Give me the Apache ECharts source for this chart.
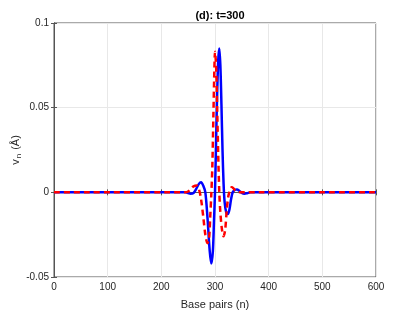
<!DOCTYPE html>
<html>
<head>
<meta charset="utf-8">
<script src="https://cdn.jsdelivr.net/npm/echarts@6/dist/echarts.min.js"></script>
<style>
  html, body { margin: 0; padding: 0; background: #fff; }
  #chart { width: 415px; height: 312px; }
</style>
</head>
<body>
<div id="chart"></div>
<script>
// values (x = base pair n, y = v_n in Å)
const blueX = [0, 230, 245, 250, 254, 260, 265, 270, 274, 278, 282, 286, 290, 293, 296, 298, 300, 302, 304, 306, 308, 310, 312, 314, 316, 318, 321, 324, 327, 330, 333, 337, 341, 345, 350, 355, 360, 366, 600];
const blueY = [0, 0, 0, -0.0004, -0.0008, -0.0004, 0.002, 0.005, 0.006, 0.004, 0, -0.015, -0.034, -0.042, -0.035, -0.018, 0, 0.03, 0.058, 0.078, 0.085, 0.075, 0.052, 0.025, 0.005, -0.006, -0.012, -0.0128, -0.01, -0.004, 0, 0.0015, 0.0017, 0.001, -0.0004, -0.0008, -0.0005, 0, 0];

const redX = [0, 245, 250, 255, 260, 266, 270, 274, 278, 282, 286, 289, 291, 293, 295, 297, 299, 300, 302, 304, 306, 308, 310, 313, 316, 319, 322, 325, 328, 331, 334, 338, 345, 600];
const redY = [0, 0, 0.0005, 0.002, 0.0035, 0.004, 0.002, -0.004, -0.014, -0.025, -0.03, -0.027, -0.015, -0.002, 0.015, 0.045, 0.075, 0.083, 0.075, 0.05, 0.022, 0, -0.012, -0.022, -0.026, -0.022, -0.01, -0.002, 0.001, 0.003, 0.0025, 0.001, 0, 0];

const xTicks = [0, 100, 200, 300, 400, 500, 600];
const yTicks = [-0.05, 0, 0.05, 0.1];

const chart = echarts.init(document.getElementById('chart'));
const axisCol = '#555555';
const textCol = '#262626';
const font = 'Liberation Sans, Arial, sans-serif';

const pairs = (xs, ys) => xs.map((x, i) => [x, ys[i]]);

chart.setOption({
    animation: false,
    backgroundColor: '#fff',
    title: {
        text: '(d): t=300',
        left: 215, top: 5,
        textAlign: 'center',
        textStyle: { fontSize: 11, fontWeight: 'bold', color: '#000', fontFamily: font }
    },
    grid: { left: 54, right: 39, top: 23, bottom: 35, outerBoundsMode: 'none', containLabel: false,
        show: true, borderColor: axisCol, borderWidth: 1 },
    xAxis: [{
        type: 'value',
        min: xTicks[0], max: xTicks[xTicks.length - 1], interval: 100,
        name: 'Base pairs (n)', nameLocation: 'middle', nameGap: 22, nameMoveOverlap: false,
        nameTextStyle: { fontSize: 11, color: textCol, fontFamily: font },
        axisLine: { show: true, lineStyle: { color: axisCol } },
        axisTick: { show: true, inside: true, length: 3, lineStyle: { color: axisCol } },
        axisLabel: { fontSize: 10, color: textCol, fontFamily: font, margin: 5 },
        splitLine: { show: true, lineStyle: { color: '#e8e8e8' } }
    }, {
        type: 'value', position: 'top',
        min: xTicks[0], max: xTicks[xTicks.length - 1], interval: 100,
        axisLine: { show: true, lineStyle: { color: axisCol } },
        axisTick: { show: true, inside: true, length: 3, lineStyle: { color: axisCol } },
        axisLabel: { show: false }, splitLine: { show: false }
    }],
    yAxis: [{
        type: 'value',
        min: yTicks[0], max: yTicks[yTicks.length - 1], interval: 0.05,
        name: '{a|v}{b|n}{a| (Å)}', nameLocation: 'middle', nameGap: 31, nameRotate: 90,
        nameMoveOverlap: false,
        nameTextStyle: {
            color: textCol, fontFamily: font,
            rich: {
                a: { fontSize: 11, color: textCol, fontFamily: font },
                b: { fontSize: 8, color: textCol, fontFamily: font, padding: [7, 1, 0, 1] }
            }
        },
        axisLine: { show: true, lineStyle: { color: axisCol } },
        axisTick: { show: true, inside: true, length: 3, lineStyle: { color: axisCol } },
        axisLabel: { fontSize: 10, color: textCol, fontFamily: font, margin: 5,
            formatter: v => (Math.abs(v) < 1e-9 ? '0' : String(+v.toFixed(2))) },
        splitLine: { show: true, lineStyle: { color: '#e8e8e8' } }
    }, {
        type: 'value', position: 'right',
        min: yTicks[0], max: yTicks[yTicks.length - 1], interval: 0.05,
        axisLine: { show: true, lineStyle: { color: axisCol } },
        axisTick: { show: true, inside: true, length: 3, lineStyle: { color: axisCol } },
        axisLabel: { show: false }, splitLine: { show: false }
    }],
    series: [{
        type: 'line',
        data: pairs(blueX, blueY),
        showSymbol: false,
        smooth: 0.3,
        lineStyle: { color: '#0000ff', width: 2.5 },
        z: 2
    }, {
        type: 'line',
        data: pairs(redX, redY),
        showSymbol: false,
        smooth: 0.3,
        lineStyle: { color: '#ff0000', width: 2.5, type: [6, 4] },
        z: 3
    }]
});
</script>
</body>
</html>
